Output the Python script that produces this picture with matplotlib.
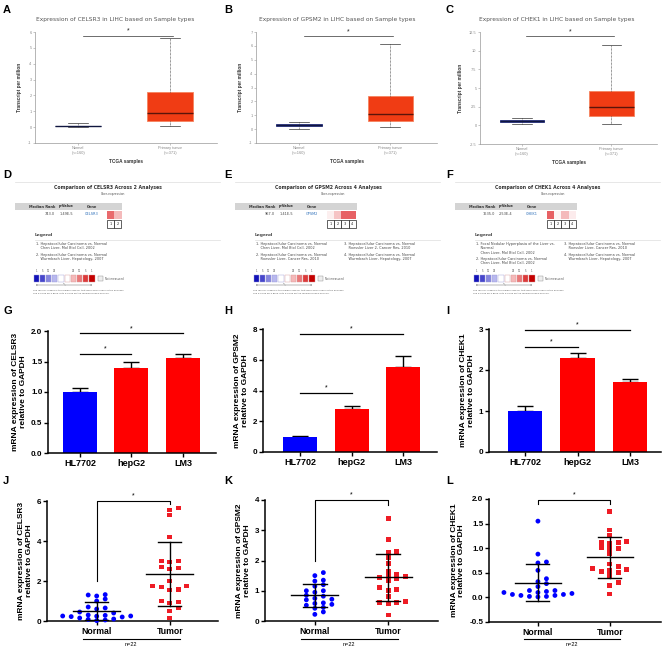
import numpy as np
import matplotlib
matplotlib.use('Agg')
import matplotlib.pyplot as plt
from matplotlib.colors import LinearSegmentedColormap
from matplotlib.patches import Rectangle
import matplotlib.transforms as mtrans

W, H = 669, 650
fig = plt.figure(figsize=(W / 100, H / 100), dpi=100)
plt.rcParams['font.family'] = ['Liberation Sans', 'DejaVu Sans']

# ---------------- DATA ----------------
genes = ['CELSR3', 'GPSM2', 'CHEK1']
tcga_groups = ['Normal\n(n=160)', 'Primary tumor\n(n=371)']
# box stats: whislo, q1, med, q3, whishi
tcga_normal = [[0.00, 0.05, 0.07, 0.10, 0.25],
               [0.02, 0.22, 0.28, 0.34, 0.50],
               [0.12, 0.40, 0.52, 0.65, 1.00]]
tcga_tumor = [[0.05, 0.40, 0.90, 2.20, 5.60],
              [0.15, 0.55, 1.10, 2.40, 6.10],
              [0.20, 1.20, 2.40, 4.60, 10.70]]
tcga_ylim = [(-1, 6), (-1, 7), (-2.5, 12.5)]
tcga_yticks = [list(range(-1, 7)), list(range(-1, 8)), [-2.5, 0, 2.5, 5, 7.5, 10, 12.5]]
tcga_ytick_labels = [[str(v) for v in range(-1, 7)], [str(v) for v in range(-1, 8)],
                     ['-2.5', '0', '2.5', '5', '7.5', '10', '12.5']]
tcga_sig = [5.75, 6.70, 11.90]

onc_rank = ['743.0', '967.0', '1635.0']
onc_pval = ['1.49E-5', '1.41E-5', '2.53E-4']
onc_n = [2, 4, 4]
onc_cells = [[0.75, 0.35], [0.08, 0.30, 0.80, 0.80], [0.80, 0.05, 0.35, 0.10]]
onc_legend = [
    [["1. Hepatocellular Carcinoma vs. Normal", "    Chen Liver, Mol Biol Cell, 2002"],
     ["2. Hepatocellular Carcinoma vs. Normal", "    Wurmbach Liver, Hepatology, 2007"]],
    [["1. Hepatocellular Carcinoma vs. Normal", "    Chen Liver, Mol Biol Cell, 2002"],
     ["2. Hepatocellular Carcinoma vs. Normal", "    Roessler Liver, Cancer Res, 2010"],
     ["3. Hepatocellular Carcinoma vs. Normal", "    Roessler Liver 2, Cancer Res, 2010"],
     ["4. Hepatocellular Carcinoma vs. Normal", "    Wurmbach Liver, Hepatology, 2007"]],
    [["1. Focal Nodular Hyperplasia of the Liver vs.", "    Normal", "    Chen Liver, Mol Biol Cell, 2002"],
     ["2. Hepatocellular Carcinoma vs. Normal", "    Chen Liver, Mol Biol Cell, 2002"],
     ["3. Hepatocellular Carcinoma vs. Normal", "    Roessler Liver, Cancer Res, 2010"],
     ["4. Hepatocellular Carcinoma vs. Normal", "    Wurmbach Liver, Hepatology, 2007"]],
]
scale_colors = ['#1212b8', '#4646cc', '#8585de', '#b8b8ee', '#ffffff',
                '#ffffff', '#f5b8b8', '#ea7878', '#dc3a3a', '#c40000']

cell_lines = ['HL7702', 'hepG2', 'LM3']
bar_means = [[1.00, 1.40, 1.55], [1.00, 2.80, 5.50], [1.00, 2.30, 1.70]]
bar_errs = [[0.07, 0.09, 0.08], [0.07, 0.22, 0.75], [0.12, 0.12, 0.08]]
bar_ylim = [(0, 2), (0, 8), (0, 3)]
bar_yticks = [[0, 0.5, 1.0, 1.5, 2.0], [0, 2, 4, 6, 8], [0, 1, 2, 3]]
bar_ytick_labels = [['0.0', '0.5', '1.0', '1.5', '2.0'], ['0', '2', '4', '6', '8'], ['0', '1', '2', '3']]
bar_sig = [[(0, 2, 1.96), (0, 1, 1.63)], [(0, 2, 7.70), (0, 1, 3.85)], [(0, 2, 2.97), (0, 1, 2.57)]]

tissue_groups = ['Normal', 'Tumor']
scat_normal = [
    [1.32, 1.30, 1.25, 1.10, 1.00, 0.70, 0.65, 0.60, 0.45, 0.40, 0.30, 0.28,
     0.25, 0.25, 0.24, 0.22, 0.20, 0.15, 0.10, 0.08, 0.05, 0.02],
    [1.60, 1.50, 1.35, 1.32, 1.20, 1.15, 1.00, 1.00, 0.95, 0.85, 0.82, 0.75,
     0.72, 0.70, 0.60, 0.58, 0.55, 0.52, 0.45, 0.42, 0.30, 0.22],
    [1.55, 0.88, 0.72, 0.70, 0.55, 0.38, 0.32, 0.28, 0.22, 0.14, 0.12, 0.10,
     0.08, 0.06, 0.04, 0.02, 0.01, 0.02, 0.04, 0.06, 0.10, 0.14],
]
scat_tumor = [
    [5.65, 5.55, 5.30, 4.20, 3.00, 3.00, 2.95, 2.70, 2.65, 2.60, 2.00, 1.75,
     1.75, 1.70, 1.58, 1.55, 1.00, 0.95, 0.90, 0.65, 0.50, 0.15],
    [3.40, 2.70, 2.30, 2.28, 2.10, 1.90, 1.65, 1.55, 1.50, 1.48, 1.45, 1.40,
     1.35, 1.10, 1.05, 1.02, 0.80, 0.65, 0.60, 0.60, 0.58, 0.20],
    [1.75, 1.37, 1.25, 1.13, 1.12, 1.12, 1.10, 1.02, 1.00, 1.00, 0.90, 0.68,
     0.62, 0.58, 0.57, 0.55, 0.52, 0.50, 0.45, 0.30, 0.25, 0.07],
]
scat_ylim = [(0, 6), (0, 4), (-0.5, 2.0)]
scat_yticks = [[0, 2, 4, 6], [0, 1, 2, 3, 4], [-0.5, 0, 0.5, 1.0, 1.5, 2.0]]
scat_ytick_labels = [['0', '2', '4', '6'], ['0', '1', '2', '3', '4'],
                     ['-0.5', '0.0', '0.5', '1.0', '1.5', '2.0']]
scat_bracket = [(2.0, 6.0, 5.85), (2.0, 4.0, 3.82), (1.90, 1.98, 1.90)]
n_label = 'n=22'

# ---------------- helpers ----------------
def px_axes(x0, y0, x1, y1):
    return fig.add_axes([x0 / W, 1 - y1 / H, (x1 - x0) / W, (y1 - y0) / H])

ov = fig.add_axes([0, 0, 1, 1])
ov.set_xlim(0, W)
ov.set_ylim(H, 0)
ov.axis('off')

def plabel(x, y, s):
    ov.text(x, y, s, fontsize=8, fontweight='bold', ha='left', va='baseline', color='black')

# ---------------- A-C GEPIA boxplots ----------------
gepia_boxes = [(35, 32, 217, 143), (256, 32, 437, 143), (480, 32, 657, 144)]
title_cx = [115, 337, 557]
for i in range(3):
    ax = px_axes(*gepia_boxes[i])
    for pos, st, fc, ec, mc in [(1, tcga_normal[i], '#2b3585', '#2b3585', '#10163f'),
                                (2, tcga_tumor[i], '#f03c14', '#f5835e', '#5a140a')]:
        stats = [dict(whislo=st[0], q1=st[1], med=st[2], q3=st[3], whishi=st[4], fliers=[])]
        ax.bxp(stats, positions=[pos], widths=0.5, patch_artist=True, showfliers=False,
               boxprops=dict(facecolor=fc, edgecolor=ec, linewidth=0.6),
               medianprops=dict(color=mc, linewidth=1.0),
               whiskerprops=dict(color='#333333', linewidth=0.5, linestyle=(0, (1, 1))),
               capprops=dict(color='#333333', linewidth=0.5), capwidths=0.22)
    ax.set_xlim(0.53, 2.51)
    ax.set_ylim(*tcga_ylim[i])
    ax.set_yticks(tcga_yticks[i])
    ax.set_yticklabels(tcga_ytick_labels[i])
    ax.set_xticks([1, 2])
    ax.set_xticklabels(tcga_groups)
    for s in ['top', 'right']:
        ax.spines[s].set_visible(False)
    for s in ['left', 'bottom']:
        ax.spines[s].set_color('#999999')
        ax.spines[s].set_linewidth(0.5)
    ax.tick_params(axis='both', colors='#999999', labelcolor='#888888', labelsize=2.8,
                   length=1.5, width=0.4, pad=1)
    ax.set_ylabel('Transcript per million', fontsize=3.4, fontweight='bold', color='#333333', labelpad=4)
    ax.set_xlabel('TCGA samples', fontsize=3.4, fontweight='bold', color='#333333', labelpad=3)
    ax.plot([1.05, 2.03], [tcga_sig[i]] * 2, color='#333333', lw=0.5)
    yr = tcga_ylim[i][1] - tcga_ylim[i][0]
    ax.text(1.54, tcga_sig[i] + 0.01 * yr, '*', ha='center', va='bottom', fontsize=5, color='#222222')
    ov.text(title_cx[i], 20, f'Expression of {genes[i]} in LIHC based on Sample types',
            ha='center', va='center', fontsize=4.2, color='#555555', family='DejaVu Sans')
for x, s in zip([3, 224, 446], 'ABC'):
    plabel(x, 13, s)

# ---------------- D-F Oncomine ----------------
cmap = LinearSegmentedColormap.from_list('onc', ['#ffffff', '#e23a3e'])
ofx = [0, 220, 440]
for i in range(3):
    ox = ofx[i]
    n = onc_n[i]
    cx0 = ox + 107
    cw = 7.2
    cx1 = cx0 + n * cw
    ov.plot([ox + 15, ox + 220], [182, 182], color='#dddddd', lw=0.5)
    ov.text(ox + 108, 187, f'Comparison of {genes[i]} Across {n} Analyses', ha='center', va='center',
            fontsize=3.3, fontweight='bold', color='#333333', family='DejaVu Sans')
    ov.text(ox + 113, 194, 'Over-expression', ha='center', va='center', fontsize=2.2,
            color='#555555', family='DejaVu Sans')
    ov.add_patch(Rectangle((ox + 15, 203), cx1 + 1 - (ox + 15), 7, facecolor='#d4d4d4', edgecolor='none'))
    for xx, t in [(ox + 42, 'Median Rank'), (ox + 66, 'p-Value'), (ox + 92, 'Gene')]:
        ov.text(xx, 206.5, t, ha='center', va='center', fontsize=2.6, fontweight='bold',
                color='#333333', family='DejaVu Sans')
    ov.text(ox + 55, 214, onc_rank[i], ha='right', va='center', fontsize=2.5, color='#444444', family='DejaVu Sans')
    ov.text(ox + 66, 214, onc_pval[i], ha='center', va='center', fontsize=2.5, color='#444444', family='DejaVu Sans')
    ov.text(ox + 92, 214, genes[i], ha='center', va='center', fontsize=2.5, color='#2a6db8', family='DejaVu Sans')
    hax = px_axes(cx0, 211, cx1, 219)
    hax.imshow([onc_cells[i]], cmap=cmap, vmin=0, vmax=1, aspect='auto')
    hax.axis('off')
    for k in range(n):
        ov.add_patch(Rectangle((cx0 + k * cw, 220), cw, 8, facecolor='white', edgecolor='#222222', lw=0.5))
        ov.text(cx0 + k * cw + cw / 2, 224, str(k + 1), ha='center', va='center', fontsize=2.5,
                color='#222222', family='DejaVu Sans')
    ov.text(ox + 35, 235, 'Legend', ha='left', va='center', fontsize=3.2, fontweight='bold',
            color='#444444', family='DejaVu Sans')
    ov.plot([ox + 35, ox + 220], [239.5, 239.5], color='#dddddd', lw=0.5)
    items = onc_legend[i]
    if len(items) == 2:
        cols = [items]
    else:
        cols = [items[:2], items[2:]]
    for c, col in enumerate(cols):
        xx = ox + 36 + c * 88
        yy = 244
        for item in col:
            for line in item:
                ov.text(xx, yy, line, ha='left', va='center', fontsize=2.5, color='#444444',
                        family='DejaVu Sans')
                yy += 4.3
            yy += 2.0
    # colour scale
    sx0 = ox + 33
    sw = 6.2
    for k, col in enumerate(scale_colors):
        ov.add_patch(Rectangle((sx0 + k * sw + 0.5, 275), sw - 1, 7, facecolor=col,
                               edgecolor='#9a9ad8' if k < 5 else '#d89a9a', lw=0.3))
    for k, t in enumerate(['1', '5', '10', '25', '', '', '25', '10', '5', '1']):
        if t:
            ov.text(sx0 + k * sw + sw / 2, 271.5, t, ha='center', va='center', fontsize=1.8,
                    color='#555555', family='DejaVu Sans')
    ov.add_patch(Rectangle((sx0 + 10 * sw + 3, 276), 5, 5, facecolor='#eeeeee', edgecolor='#888888', lw=0.3))
    ov.text(sx0 + 10 * sw + 10, 278.5, 'Not measured', ha='left', va='center', fontsize=1.9,
            color='#555555', family='DejaVu Sans')
    ov.annotate('', xy=(sx0, 285), xytext=(sx0 + 10 * sw, 285),
                arrowprops=dict(arrowstyle='<->', lw=0.3, color='#555555', mutation_scale=2))
    ov.text(sx0 + 5 * sw, 285, '%', ha='center', va='center', fontsize=1.8, color='#555555',
            family='DejaVu Sans', bbox=dict(facecolor='white', edgecolor='none', pad=0.1))
    ov.text(sx0, 290, 'The rank for a gene is the median rank for that gene across each of the analyses.',
            ha='left', va='center', fontsize=1.6, color='#555555', family='DejaVu Sans')
    ov.text(sx0, 293.5, 'The p-Value for a gene is its p-Value for the median-ranked analysis.',
            ha='left', va='center', fontsize=1.6, color='#555555', family='DejaVu Sans')
for x, s in zip([3, 224, 446], 'DEF'):
    plabel(x, 178, s)

# ---------------- G-I bar charts ----------------
bar_boxes = [(48, 331, 216, 453), (263, 329, 437, 452), (489, 329, 661, 452)]
bar_xlim = [(-0.62, 2.64), (-0.72, 2.66), (-0.69, 2.59)]
bar_colors = ['#0000ff', '#ff0000', '#ff0000']
for i in range(3):
    ax = px_axes(*bar_boxes[i])
    x = np.arange(len(cell_lines))
    ax.bar(x, bar_means[i], width=0.66, color=bar_colors, edgecolor='none', zorder=2)
    ax.errorbar(x, bar_means[i], yerr=[np.zeros(3), bar_errs[i]], fmt='none', ecolor='black',
                elinewidth=1.0, capsize=5.5, capthick=1.0, zorder=1)
    ax.set_xlim(*bar_xlim[i])
    ax.set_ylim(*bar_ylim[i])
    ax.set_yticks(bar_yticks[i])
    ax.set_yticklabels(bar_ytick_labels[i])
    ax.set_xticks(x)
    ax.set_xticklabels(cell_lines)
    for s in ['top', 'right']:
        ax.spines[s].set_visible(False)
    for s in ['left', 'bottom']:
        ax.spines[s].set_linewidth(1.1)
    ax.tick_params(axis='y', labelsize=5.8, length=3, width=1.0, pad=1)
    ax.tick_params(axis='x', labelsize=6.5, length=3, width=1.0, pad=1.5)
    for lab in ax.get_xticklabels() + ax.get_yticklabels():
        lab.set_fontweight('bold')
    ax.set_ylabel(f'mRNA expression of {genes[i]}\nrelative to GAPDH', fontsize=6,
                  fontweight='bold', labelpad=3, linespacing=1.1)
    yr = bar_ylim[i][1] - bar_ylim[i][0]
    for a, b, yv in bar_sig[i]:
        ax.plot([a, b], [yv, yv], color='black', lw=0.9, clip_on=False)
        ax.text((a + b) / 2, yv + 0.012 * yr, '*', ha='center', va='bottom', fontsize=5, clip_on=False)
for x, s in zip([3, 224, 446], 'GHI'):
    plabel(x, 314, s)

# ---------------- J-L scatter plots ----------------
def swarm_offsets(vals, ppu_x, ppu_y, dx, dy):
    vals = np.asarray(vals, float)
    order = np.argsort(vals)
    placed = []
    off = np.zeros(len(vals))
    step = dx * 0.5
    cands = [0.0]
    for k in range(1, 80):
        cands += [k * step, -k * step]
    for idx in order:
        yp = vals[idx] * ppu_y
        for c in cands:
            if all(((c - px) / dx) ** 2 + ((yp - py) / dy) ** 2 >= 1.0 for px, py in placed):
                placed.append((c, yp))
                off[idx] = c / ppu_x
                break
    return off

scat_boxes = [(47, 501, 218, 621), (265, 500, 438, 621), (489, 499, 661, 622)]
scat_xlim = [(-0.68, 1.66), (-0.68, 1.68), (-0.68, 1.71)]
for i in range(3):
    x0, y0, x1, y1 = scat_boxes[i]
    ax = px_axes(x0, y0, x1, y1)
    xl = scat_xlim[i]
    yl = scat_ylim[i]
    ppu_x = (x1 - x0) / (xl[1] - xl[0])
    ppu_y = (y1 - y0) / (yl[1] - yl[0])
    for pos, vals, mk, col in [(0, scat_normal[i], 'o', '#0000ff'), (1, scat_tumor[i], 's', '#ee1c25')]:
        vals = np.asarray(vals)
        off = swarm_offsets(vals, ppu_x, ppu_y, 8.5, 4.3)
        ax.scatter(pos + off, vals, marker=mk, s=12, color=col, edgecolors='none', zorder=3, clip_on=False)
        m = vals.mean()
        sd = vals.std(ddof=1)
        ax.plot([pos - 0.32, pos + 0.32], [m, m], color='black', lw=1.0, zorder=4)
        ax.plot([pos, pos], [m - sd, m + sd], color='black', lw=1.0, zorder=4)
        ax.plot([pos - 0.16, pos + 0.16], [m + sd, m + sd], color='black', lw=1.0, zorder=4)
        ax.plot([pos - 0.16, pos + 0.16], [m - sd, m - sd], color='black', lw=1.0, zorder=4)
    lo, top, ro = scat_bracket[i]
    ax.plot([0, 0, 1, 1], [lo, top, top, ro], color='black', lw=0.8, clip_on=False)
    ax.text(0.5, top + 0.015 * (yl[1] - yl[0]), '*', ha='center', va='bottom', fontsize=5, clip_on=False)
    ax.set_xlim(*xl)
    ax.set_ylim(*yl)
    ax.set_yticks(scat_yticks[i])
    ax.set_yticklabels(scat_ytick_labels[i])
    ax.set_xticks([0, 1])
    ax.set_xticklabels(tissue_groups)
    for s in ['top', 'right']:
        ax.spines[s].set_visible(False)
    for s in ['left', 'bottom']:
        ax.spines[s].set_linewidth(1.1)
    ax.tick_params(axis='y', labelsize=5.8, length=3, width=1.0, pad=1)
    ax.tick_params(axis='x', labelsize=6.3, length=3, width=1.0, pad=1.5)
    for lab in ax.get_xticklabels() + ax.get_yticklabels():
        lab.set_fontweight('bold')
    ax.set_ylabel(f'mRNA expression of {genes[i]}\nrelative to GAPDH', fontsize=6,
                  fontweight='bold', labelpad=3, linespacing=1.1)
    tr = mtrans.blended_transform_factory(ax.transData, ax.transAxes)
    yline = -(639 - y1) / (y1 - y0)
    ax.plot([-0.19, 1.14], [yline, yline], color='black', lw=0.8, transform=tr, clip_on=False)
    ax.text(0.47, -(645 - y1) / (y1 - y0), n_label, ha='center', va='center', fontsize=4,
            transform=tr, clip_on=False)
for x, s in zip([3, 224, 446], 'JKL'):
    plabel(x, 484, s)

fig.savefig('out.png', dpi=100)
